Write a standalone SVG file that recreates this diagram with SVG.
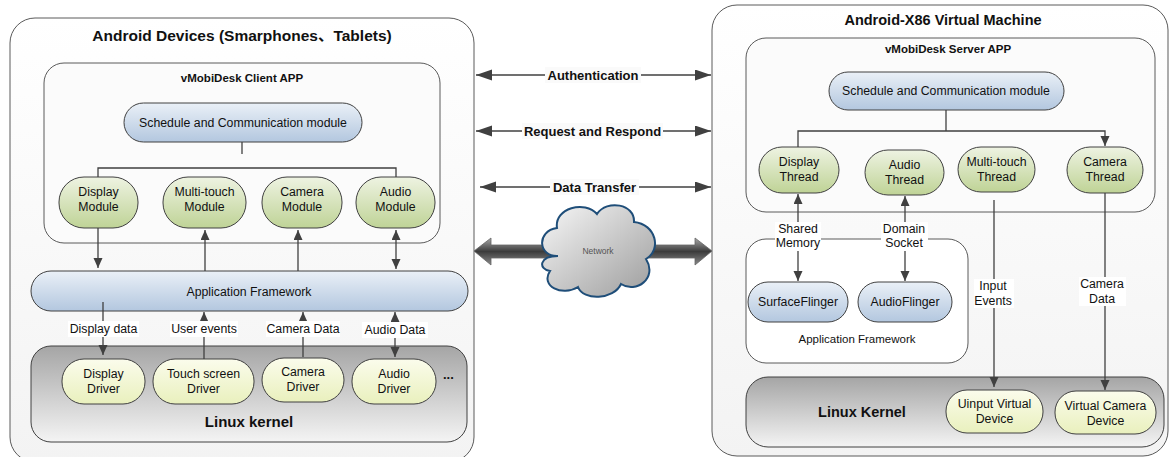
<svg xmlns="http://www.w3.org/2000/svg" width="1171" height="457" viewBox="0 0 1171 457">
<defs>
<linearGradient id="gOuter" x1="0" y1="0" x2="0" y2="1"><stop offset="0" stop-color="#ffffff"/><stop offset="1" stop-color="#f3f3f3"/></linearGradient>
<linearGradient id="gBlue" x1="0" y1="0" x2="0" y2="1"><stop offset="0" stop-color="#eaf0f7"/><stop offset="1" stop-color="#b3c7df"/></linearGradient>
<linearGradient id="gGreen" x1="0" y1="0" x2="0" y2="1"><stop offset="0" stop-color="#eef3e2"/><stop offset="1" stop-color="#bfd396"/></linearGradient>
<linearGradient id="gYellow" x1="0" y1="0" x2="0" y2="1"><stop offset="0" stop-color="#fbfcec"/><stop offset="1" stop-color="#e9f0bd"/></linearGradient>
<linearGradient id="gGray" x1="0" y1="0" x2="0" y2="1"><stop offset="0" stop-color="#a5a5a5"/><stop offset="1" stop-color="#f4f4f4"/></linearGradient>
<linearGradient id="gCloud" x1="0" y1="0" x2="1" y2="1"><stop offset="0" stop-color="#f7f7f7"/><stop offset="1" stop-color="#9c9c9c"/></linearGradient>
<linearGradient id="gBig" x1="0" y1="0" x2="0" y2="1"><stop offset="0" stop-color="#a8a8a8"/><stop offset="0.5" stop-color="#3c3c3c"/><stop offset="1" stop-color="#8a8a8a"/></linearGradient>
<marker id="ah" markerUnits="userSpaceOnUse" markerWidth="11" markerHeight="10" refX="10" refY="4.5" orient="auto-start-reverse"><path d="M0,0 L10,4.5 L0,9 z" fill="#404040"/></marker>
<marker id="ahL" markerUnits="userSpaceOnUse" markerWidth="17" markerHeight="12" refX="16" refY="5.5" orient="auto-start-reverse"><path d="M0,0 L16,5.5 L0,11 z" fill="#404040"/></marker>
</defs>
<style>
text{font-family:"Liberation Sans","Noto Sans CJK SC",sans-serif;fill:#111;}
.t{font-size:12.3px;text-anchor:middle;}
.s{font-size:11.5px;text-anchor:middle;}
.b{font-weight:bold;text-anchor:middle;}
.box{fill:url(#gOuter);stroke:#5a5a5a;stroke-width:1;}
.app{fill:#fbfbfb;stroke:#5a5a5a;stroke-width:1;}
.blue{fill:url(#gBlue);stroke:#404040;stroke-width:1;}
.green{fill:url(#gGreen);stroke:#404040;stroke-width:1;}
.yel{fill:url(#gYellow);stroke:#404040;stroke-width:1;}
.kern{fill:url(#gGray);stroke:#404040;stroke-width:1;}
.ln{fill:none;stroke:#404040;stroke-width:1.3;}
.lbg{fill:#ffffff;}
.mid{fill:#fafafa;}
</style>

<g id="left-device">
<rect class="box" x="10" y="18" width="464" height="444" rx="25"/>
<text class="b" x="242" y="41" font-size="15.5">Android Devices (Smarphones、Tablets)</text>
</g>
<g id="client-app">
<rect class="app" x="44" y="63" width="396" height="180" rx="20"/>
<text class="b" x="242" y="82" font-size="11.5">vMobiDesk Client APP</text>
</g>
<g id="client-schedule">
<rect class="blue" x="124" y="103" width="238" height="39" rx="19.5"/>
<text class="t" x="243" y="127">Schedule and Communication module</text>
</g>
<g id="display-module"><rect class="green" x="59" y="177" width="79" height="51" rx="25"/><text class="t" x="98.5" y="196">Display</text><text class="t" x="98.5" y="211">Module</text></g>
<g id="multitouch-module"><rect class="green" x="163" y="177" width="83" height="51" rx="25"/><text class="t" x="204.5" y="196">Multi-touch</text><text class="t" x="204.5" y="211">Module</text></g>
<g id="camera-module"><rect class="green" x="262" y="177" width="80" height="51" rx="25"/><text class="t" x="302" y="196">Camera</text><text class="t" x="302" y="211">Module</text></g>
<g id="audio-module"><rect class="green" x="356" y="177" width="79" height="51" rx="25"/><text class="t" x="395.5" y="196">Audio</text><text class="t" x="395.5" y="211">Module</text></g>
<g id="client-appfw">
<rect class="blue" x="31" y="271" width="437" height="40" rx="20"/>
<text class="t" x="249" y="296">Application Framework</text>
</g>
<g id="client-kernel">
<rect class="kern" x="31" y="346" width="436" height="96" rx="20"/>
<text class="b" x="249" y="427" font-size="15">Linux kernel</text>
<text x="443" y="379" font-size="13" font-weight="bold">...</text>
</g>
<g id="display-driver"><rect class="yel" x="62" y="359" width="83" height="45" rx="22"/><text class="t" x="103.5" y="378">Display</text><text class="t" x="103.5" y="393">Driver</text></g>
<g id="touch-driver"><rect class="yel" x="153" y="359" width="101" height="45" rx="22"/><text class="t" x="203.5" y="378">Touch screen</text><text class="t" x="203.5" y="393">Driver</text></g>
<g id="camera-driver"><rect class="yel" x="262" y="358" width="82" height="44" rx="22"/><text class="t" x="303" y="376">Camera</text><text class="t" x="303" y="391">Driver</text></g>
<g id="audio-driver"><rect class="yel" x="352" y="359" width="84" height="45" rx="22"/><text class="t" x="394" y="378">Audio</text><text class="t" x="394" y="393">Driver</text></g>

<g id="network">
<polygon points="474,251 491,238 491,245 695,245 695,238 712,251 695,265 695,258 491,258 491,265" fill="url(#gBig)" stroke="#666" stroke-width="0.8"/>
<path d="M558,256 C538,257 536,231 557,228 C554,208 585,200 597,214 C607,199 635,204 634,222 C656,224 662,250 646,259 C658,278 636,294 621,284 C614,300 583,301 578,287 C562,297 540,286 550,271 C538,269 539,256 558,256 Z" fill="url(#gCloud)" stroke="#1f4e79" stroke-width="2"/>
<text x="598" y="254" font-size="8.5" text-anchor="middle" style="fill:#555">Network</text>
</g>

<g id="right-vm">
<rect class="box" x="712" y="5" width="456" height="451" rx="25"/>
<text class="b" x="943" y="25" font-size="14.5">Android-X86 Virtual Machine</text>
</g>
<g id="server-app">
<rect class="app" x="746" y="38" width="409" height="174" rx="20"/>
<text class="b" x="948" y="53" font-size="11.5">vMobiDesk Server APP</text>
</g>
<g id="server-schedule">
<rect class="blue" x="829" y="72" width="235" height="38" rx="19"/>
<text class="t" x="946" y="95">Schedule and Communication module</text>
</g>
<g id="display-thread"><rect class="green" x="759" y="147" width="80" height="46" rx="23"/><text class="t" x="799" y="166">Display</text><text class="t" x="799" y="181">Thread</text></g>
<g id="audio-thread"><rect class="green" x="865" y="150" width="79" height="45" rx="23"/><text class="t" x="904.5" y="169">Audio</text><text class="t" x="904.5" y="184">Thread</text></g>
<g id="multitouch-thread"><rect class="green" x="958" y="147" width="77" height="45" rx="23"/><text class="t" x="996.5" y="166">Multi-touch</text><text class="t" x="996.5" y="181">Thread</text></g>
<g id="camera-thread"><rect class="green" x="1067" y="147" width="76" height="46" rx="23"/><text class="t" x="1105" y="166">Camera</text><text class="t" x="1105" y="181">Thread</text></g>
<g id="server-appfw">
<rect fill="#ffffff" stroke="#5a5a5a" x="746" y="239" width="222" height="124" rx="20"/>
<text class="s" x="857" y="343">Application Framework</text>
</g>
<g id="surfaceflinger"><rect class="blue" x="748" y="282" width="100" height="40" rx="20"/><text class="t" x="798" y="306">SurfaceFlinger</text></g>
<g id="audioflinger"><rect class="blue" x="858" y="282" width="94" height="40" rx="20"/><text class="t" x="905" y="306">AudioFlinger</text></g>
<g id="server-kernel">
<rect class="kern" x="746" y="377" width="418" height="70" rx="22"/>
<text class="b" x="862" y="417" font-size="14.5">Linux Kernel</text>
</g>
<g id="uinput-device"><rect class="yel" x="946" y="390" width="97" height="43" rx="21"/><text class="t" x="994.5" y="408">Uinput Virtual</text><text class="t" x="994.5" y="423">Device</text></g>
<g id="vcamera-device"><rect class="yel" x="1055" y="391" width="101" height="43" rx="21"/><text class="t" x="1105.5" y="410">Virtual Camera</text><text class="t" x="1105.5" y="425">Device</text></g>

<g id="connectors">
<path class="ln" d="M242,142 V154"/>
<path class="ln" d="M98,177 V168 H396 V177"/>
<path class="ln" d="M98,228 V268" marker-end="url(#ah)"/>
<path class="ln" d="M205,271 V230" marker-end="url(#ah)"/>
<path class="ln" d="M298,271 V230" marker-end="url(#ah)"/>
<path class="ln" d="M396,230 V269" marker-start="url(#ah)" marker-end="url(#ah)"/>
<path class="ln" d="M103,302 V355" marker-end="url(#ah)"/>
<path class="ln" d="M204,359 V312" marker-end="url(#ah)"/>
<path class="ln" d="M303,357 V312" marker-end="url(#ah)"/>
<path class="ln" d="M395,312 V357" marker-start="url(#ah)" marker-end="url(#ah)"/>
<rect class="lbg" x="68" y="321" width="71" height="16"/><text class="t" x="103.5" y="333">Display data</text>
<rect class="lbg" x="170" y="321" width="68" height="16"/><text class="t" x="204" y="333">User events</text>
<rect class="lbg" x="266" y="321" width="74" height="16"/><text class="t" x="303" y="333">Camera Data</text>
<rect class="lbg" x="362" y="322" width="66" height="16"/><text class="t" x="395" y="334">Audio Data</text>
<path class="ln" d="M476,75 H711" marker-start="url(#ahL)" marker-end="url(#ahL)"/>
<path class="ln" d="M476,131 H711" marker-start="url(#ahL)" marker-end="url(#ahL)"/>
<path class="ln" d="M480,187 H711" marker-start="url(#ahL)" marker-end="url(#ahL)"/>
<rect class="mid" x="545" y="67" width="96" height="16"/><text class="b" x="593" y="80" font-size="13">Authentication</text>
<rect class="mid" x="522" y="123" width="141" height="16"/><text class="b" x="592.5" y="136" font-size="13">Request and Respond</text>
<rect class="mid" x="550" y="179" width="89" height="16"/><text class="b" x="594.5" y="192" font-size="13">Data Transfer</text>
<path class="ln" d="M946,110 V131"/>
<path class="ln" d="M798,147 V131 H1105 V146" marker-end="url(#ah)"/>
<path class="ln" d="M798,194 V281" marker-start="url(#ah)" marker-end="url(#ah)"/>
<path class="ln" d="M905,196 V281" marker-start="url(#ah)" marker-end="url(#ah)"/>
<path class="ln" d="M994,200 V387" marker-end="url(#ah)"/>
<path class="ln" d="M1105,193 V390" marker-end="url(#ah)"/>
<rect class="lbg" x="775" y="222" width="46" height="29"/><text class="t" x="798" y="233">Shared</text><text class="t" x="798" y="247">Memory</text>
<rect class="lbg" x="881" y="222" width="47" height="29"/><text class="t" x="904" y="233">Domain</text><text class="t" x="904" y="247">Socket</text>
<rect class="lbg" x="974" y="279" width="40" height="29"/><text class="t" x="993" y="290">Input</text><text class="t" x="993" y="305">Events</text>
<rect class="lbg" x="1079" y="277" width="47" height="29"/><text class="t" x="1102" y="288">Camera</text><text class="t" x="1102" y="303">Data</text>
</g>
</svg>
